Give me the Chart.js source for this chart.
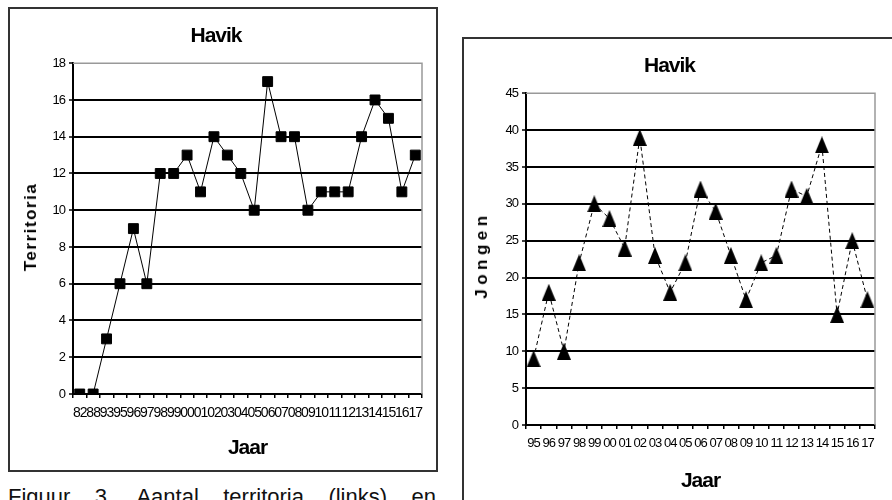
<!DOCTYPE html>
<html>
<head>
<meta charset="utf-8">
<script src="https://cdn.jsdelivr.net/npm/chart.js@4"></script>
<style>
  body { margin: 0; width: 892px; height: 500px; overflow: hidden; background: #fff; position: relative; font-family: "Liberation Sans", Arial, sans-serif; }
  .box { position: absolute; border: 2px solid #333; box-sizing: border-box; }
  canvas { position: absolute; }
  .ytitle { position: absolute; transform: translate(-50%, -50%) rotate(-90deg); font-weight: bold; font-size: 17px; white-space: nowrap; color: #000; }
  .caption { position: absolute; left: 8px; top: 484px; width: 428px; font-size: 22px; line-height: 25px; text-align: justify; text-align-last: justify; color: #111; }
</style>
</head>
<body>

<div class="box" style="left:8px; top:7px; width:430px; height:465px;"></div>
<div class="box" style="left:462px; top:37px; width:500px; height:500px;"></div>

<canvas id="myChart" width="425" height="460" style="left:10px; top:9px;"></canvas>
<canvas id="myChart1" width="428" height="461" style="left:464px; top:39px;"></canvas>

<div class="ytitle" style="left:31px; top:227px; letter-spacing:1.5px;">Territoria</div>
<div class="ytitle" style="left:482px; top:255px; letter-spacing:4.5px;">Jongen</div>

<div class="caption">Figuur 3. Aantal territoria (links) en</div>

<script>
// territoria per jaar (links)
const jarenTerritoria = ["82", "88", "93", "95", "96", "97", "98", "99", "00", "01", "02", "03", "04", "05", "06", "07", "08", "09", "10", "11", "12", "13", "14", "15", "16", "17"];
const territoria = [0, 0, 3, 6, 9, 6, 12, 12, 13, 11, 14, 13, 12, 10, 17, 14, 14, 10, 11, 11, 11, 14, 16, 15, 11, 13];

// jongen per jaar (rechts)
const jarenJongen = ["95", "96", "97", "98", "99", "00", "01", "02", "03", "04", "05", "06", "07", "08", "09", "10", "11", "12", "13", "14", "15", "16", "17"];
const jongen = [9, 18, 10, 22, 30, 28, 24, 39, 23, 18, 22, 32, 29, 23, 17, 22, 23, 32, 31, 38, 15, 25, 17];

const fam = '"Liberation Sans", Arial, sans-serif';

// no narrow font installed, so squeeze the letters a bit
const tightText = {
  id: "tightText",
  beforeUpdate(chart) { chart.ctx.letterSpacing = "-1px"; },
  beforeLayout(chart) { chart.ctx.letterSpacing = "-1px"; },
  beforeDraw(chart) { chart.ctx.letterSpacing = "-1px"; },
};

// grey frame on top and right of the plot area
const plotFrame = {
  id: "plotFrame",
  beforeDatasetsDraw(chart) {
    const a = chart.chartArea;
    const c = chart.ctx;
    c.save();
    c.strokeStyle = "#999";
    c.lineWidth = 1.5;
    c.beginPath();
    c.moveTo(a.left, a.top);
    c.lineTo(a.right, a.top);
    c.lineTo(a.right, a.bottom);
    c.stroke();
    c.restore();
  },
};

function makeOptions(yMax, yStep, yWidth, rightPad, jaarPad, xSize) {
  return {
    responsive: false,
    animation: false,
    devicePixelRatio: 1,
    layout: { padding: { left: 0, right: rightPad, top: 0, bottom: 0 } },
    plugins: {
      legend: { display: false },
      tooltip: { enabled: false },
      title: {
        display: true,
        text: "Havik",
        color: "#000",
        font: { family: fam, size: 21, weight: "bold" },
        padding: { top: 15, bottom: 14 },
      },
    },
    scales: {
      x: {
        offset: true,
        grid: { display: true, drawOnChartArea: false, drawTicks: true, tickLength: 4, offset: true, color: "#000", lineWidth: 1.5 },
        border: { color: "#000", width: 2 },
        ticks: { color: "#000", font: { family: fam, size: xSize }, padding: 7, autoSkip: false, maxRotation: 0, minRotation: 0 },
        title: { display: true, text: "Jaar", color: "#000", font: { family: fam, size: 21, weight: "bold" }, padding: { top: 0, bottom: jaarPad } },
        afterFit: function (scale) { scale.height = 75; },
      },
      y: {
        min: 0,
        max: yMax,
        grid: {
          color: (c) => (c.tick && c.tick.value === yMax ? "rgba(0,0,0,0)" : "#000"),
          lineWidth: 2,
          tickLength: 4,
          tickColor: "#000",
          tickWidth: 1.5,
        },
        border: { color: "#000", width: 2 },
        ticks: { stepSize: yStep, color: "#000", font: { family: fam, size: 13 }, padding: 4 },
        afterFit: function (scale) { scale.width = yWidth; },
      },
    },
  };
}

function triangleImage(w, h) {
  const c = document.createElement("canvas");
  c.width = w;
  c.height = h;
  const g = c.getContext("2d");
  g.fillStyle = "#000";
  g.beginPath();
  g.moveTo(w / 2, 0);
  g.lineTo(w, h);
  g.lineTo(0, h);
  g.closePath();
  g.fill();
  return c;
}

document.addEventListener("DOMContentLoaded", function () {

  const ctx = document.getElementById("myChart");
  new Chart(ctx, {
    type: "line",
    data: {
      labels: jarenTerritoria,
      datasets: [
        {
          label: "Territoria",
          data: territoria,
          borderColor: "#000",
          borderWidth: 1,
          pointStyle: "rect",
          pointRadius: 7,
          pointBackgroundColor: "#000",
          pointBorderColor: "#000",
          pointBorderWidth: 1,
          tension: 0,
        },
      ],
    },
    options: makeOptions(18, 2, 63, 13, 8, 14),
    plugins: [tightText, plotFrame],
  });

  const ctx1 = document.getElementById("myChart1");
  new Chart(ctx1, {
    type: "line",
    data: {
      labels: jarenJongen,
      datasets: [
        {
          label: "Jongen",
          data: jongen,
          borderColor: "#000",
          borderWidth: 1,
          borderDash: [4, 3],
          pointStyle: triangleImage(14, 17),
          pointRadius: 8,
          tension: 0,
        },
      ],
    },
    options: makeOptions(45, 5, 62, 17, 6, 13),
    plugins: [tightText, plotFrame],
  });

});
</script>
</body>
</html>
